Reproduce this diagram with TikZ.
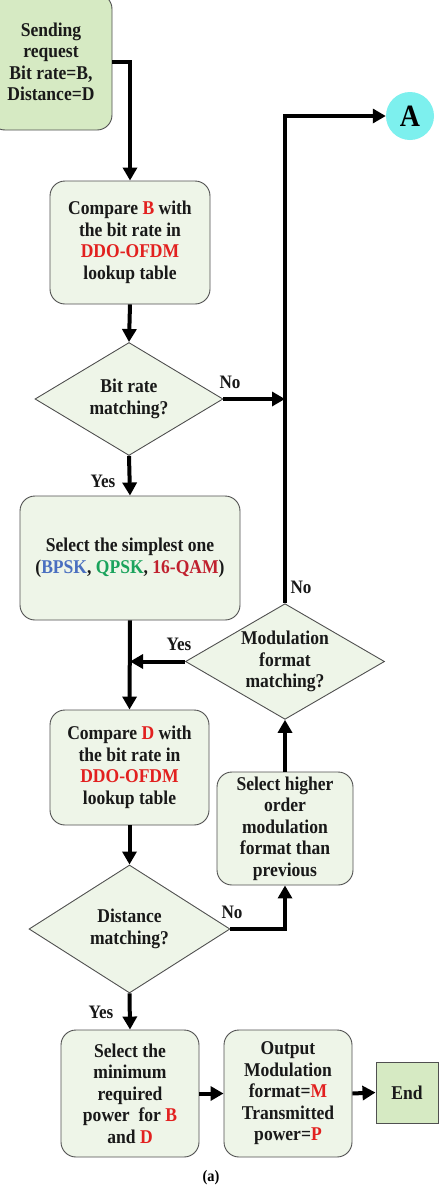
\documentclass[tikz,border=0pt]{standalone}
\usepackage{fontspec}
\setmainfont{Liberation Serif}[FakeStretch=0.9]
\usetikzlibrary{shapes.geometric,arrows.meta}
\definecolor{startfill}{HTML}{D6EAC3}
\definecolor{boxfill}{HTML}{EEF5E8}
\definecolor{edge}{HTML}{505050}
\definecolor{hl}{HTML}{E2201F}
\definecolor{bpsk}{HTML}{4A6FC0}
\definecolor{qpsk}{HTML}{1AA35C}
\definecolor{qam}{HTML}{C0202E}
\definecolor{cyanA}{HTML}{7DF0EE}
\newcommand{\R}[1]{\textcolor{hl}{#1}}
\tikzset{
  txt/.style={font=\fontsize{19.5}{21.5}\selectfont\bfseries, align=center, text=black!90},
  procbox/.style={txt, draw=edge, line width=0.9pt, fill=boxfill, rounded corners=15pt, inner sep=0pt},
  decbox/.style={txt, draw=edge, line width=0.9pt, fill=boxfill, diamond, inner sep=0pt, aspect=1.6},
  flow/.style={line width=4pt, -{Triangle[length=13pt,width=14pt]}},
  lbl/.style={font=\fontsize{19}{21}\selectfont\bfseries, text=black!90, inner sep=0pt}
}
\begin{document}
\begin{tikzpicture}[x=1pt,y=-1pt]
\useasboundingbox (0,0) rectangle (445,1186);
\clip (0,0) rectangle (445,1186);
\fill[white] (0,0) rectangle (445,1186);

\node[procbox, fill=startfill, minimum width=122pt, minimum height=136pt] (start) at (51,62) {Sending\\request\\Bit rate=B,\\Distance=D};
\node[procbox, minimum width=160pt, minimum height=123pt] (cmpB) at (130,242.5) {Compare \R{B} with\\the bit rate in\\\R{DDO-OFDM}\\lookup table};
\node[decbox, minimum width=188pt, minimum height=113pt] (d1) at (129,399) {Bit rate\\matching?};
\node[procbox, minimum width=220pt, minimum height=124pt] (sel) at (130,558) {Select the simplest one\\(\textcolor{bpsk}{BPSK}, \textcolor{qpsk}{QPSK}, \textcolor{qam}{16-QAM})};
\node[decbox, minimum width=199pt, minimum height=111pt] (mod) at (285,661.5) {Modulation\\format\\matching?};
\node[procbox, minimum width=159pt, minimum height=115pt] (cmpD) at (129.5,767.5) {Compare \R{D} with\\the bit rate in\\\R{DDO-OFDM}\\lookup table};
\node[procbox, minimum width=136pt, minimum height=113pt] (hi) at (285,828.5) {Select higher\\order\\modulation\\format than\\previous};
\node[decbox, minimum width=201pt, minimum height=128pt] (d2) at (129.5,929) {Distance\\matching?};
\node[procbox, minimum width=138pt, minimum height=127pt] (minp) at (130,1093.5) {Select the\\minimum\\required\\power\ \ for \R{B}\\and \R{D}};
\node[procbox, minimum width=128pt, minimum height=127pt] (out) at (288,1093.5) {Output\\Modulation\\format=\R{M}\\Transmitted\\power=\R{P}};
\node[txt, draw=edge, line width=1pt, fill=startfill, minimum width=62pt, minimum height=61pt, inner sep=0pt] (end) at (407,1092.5) {End};
\node[circle, fill=cyanA, minimum size=48pt, inner sep=0pt, font=\fontsize{31}{32}\selectfont\bfseries] (A) at (410,116) {A};
\node[font=\fontsize{16}{18}\selectfont\bfseries, inner sep=0pt] (cap) at (211,1178) {(a)};

\coordinate (j1) at (285,399);
\coordinate (j2) at (130,661.5);
\coordinate (top) at (285,116);

\draw[flow] (start.east |- 0,62) -| (cmpB.north);
\draw[flow] (cmpB.south) -- (d1.north);
\draw[flow] (d1.east) -- (j1);
\draw[flow] (d1.south) -- (sel.north);
\draw[flow] (sel.south) -- (cmpD.north);
\draw[flow] (mod.west) -- (j2);
\draw[flow] (mod.north) -- (top) -- (A.west);
\draw[flow] (cmpD.south) -- (d2.north);
\draw[flow] (d2.east) -| (hi.south);
\draw[flow] (hi.north) -- (mod.south);
\draw[flow] (d2.south) -- (minp.north);
\draw[flow] (minp.east) -- (out.west);
\draw[flow] (out.east) -- (end.west);

\node[lbl] (no1) at (230,382) {No};
\node[lbl] (yes1) at (103,481) {Yes};
\node[lbl] (no2) at (301,587) {No};
\node[lbl] (yes2) at (179,644) {Yes};
\node[lbl] (no3) at (232,912) {No};
\node[lbl] (yes3) at (101,1012) {Yes};
\end{tikzpicture}
\end{document}
